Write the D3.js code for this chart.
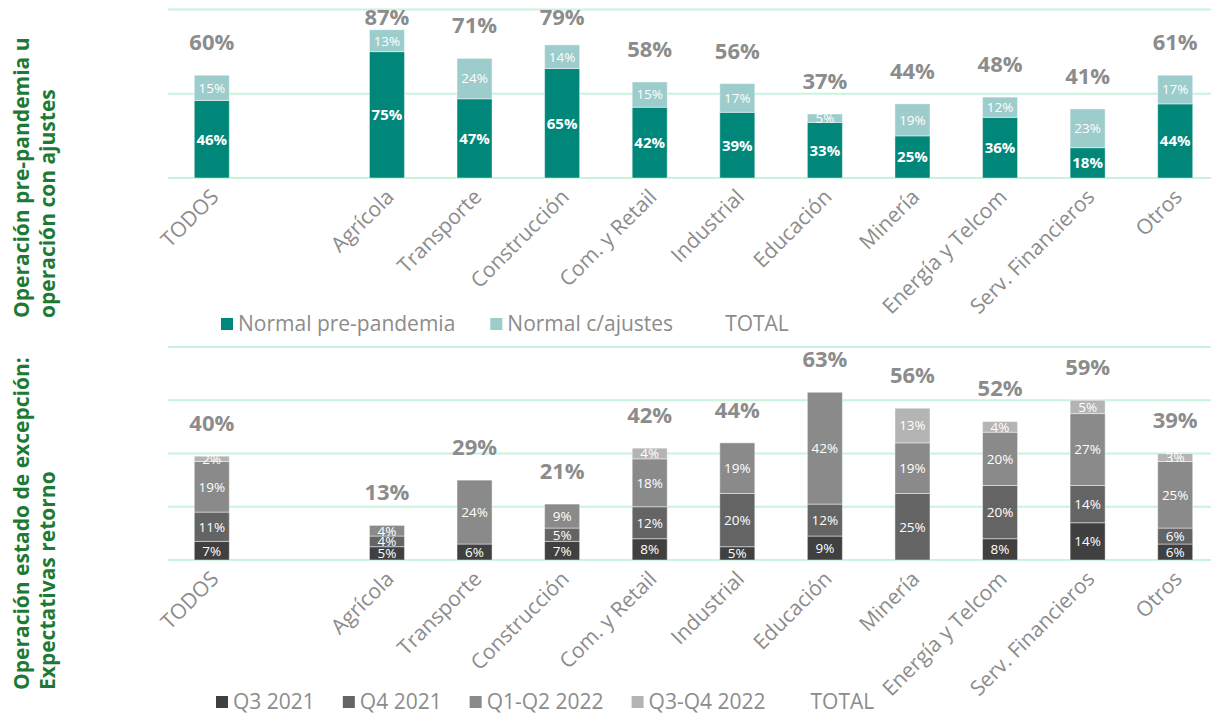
<!DOCTYPE html>
<html>
<head>
<meta charset="utf-8">
<script src="https://cdn.jsdelivr.net/npm/d3@7"></script>
<style>
  html, body { margin: 0; padding: 0; background: #ffffff; }
  svg { display: block; font-family: "Open Sans", Lato, sans-serif; }
</style>
</head>
<body>
<svg id="chart" width="1211" height="717"></svg>
<script>
// categories (a blank slot sits between TODOS and Agrícola)
var categories = ["TODOS", "Agrícola", "Transporte", "Construcción", "Com. y Retail", "Industrial", "Educación", "Minería", "Energía y Telcom", "Serv. Financieros", "Otros"];

// top panel: Operación pre-pandemia u operación con ajustes
var topSeries = ["Normal pre-pandemia", "Normal c/ajustes"];
var prePandemia = [46, 75, 47, 65, 42, 39, 33, 25, 36, 18, 44];
var conAjustes  = [15, 13, 24, 14, 15, 17, 5, 19, 12, 23, 17];
var topTotal    = [60, 87, 71, 79, 58, 56, 37, 44, 48, 41, 61];
var topTicks    = [0, 50, 100];

// bottom panel: Operación estado de excepción
var botSeries = ["Q3 2021", "Q4 2021", "Q1-Q2 2022", "Q3-Q4 2022"];
var q3_2021   = [7, 5, 6, 7, 8, 5, 9, 0, 8, 14, 6];
var q4_2021   = [11, 4, 0, 5, 12, 20, 12, 25, 20, 14, 6];
var q1q2_2022 = [19, 4, 24, 9, 18, 19, 42, 19, 20, 27, 25];
var q3q4_2022 = [2, 0, 0, 0, 4, 0, 0, 13, 4, 5, 3];
var botTotal  = [40, 13, 29, 21, 42, 44, 63, 56, 52, 59, 39];
var botTicks  = [0, 20, 40, 60, 80];

var COL = {
	grid: "#c9f3dc",
	text: "#8c8c8c",
	title: "#1d7a34",
	top: ["#00877a", "#9ccccb"],
	bot: ["#404040", "#646464", "#8a8a8a", "#b4b4b4"]
};

var svg = d3.select("#chart");

var slots = [categories[0], "_gap"].concat(categories.slice(1));
var x = d3.scaleBand().domain(slots).range([168, 1219]).paddingInner(0.6).paddingOuter(0.3);

var yTop = d3.scaleLinear().domain([0, 100]).range([178, 9.5]);
var yBot = d3.scaleLinear().domain([0, 80]).range([560, 347]);

function stackRows(seriesArrays){
	return categories.map(function(c, i){
		var row = {cat: c};
		seriesArrays.forEach(function(a, k){ row["s" + k] = a[i]; });
		return row;
	});
}

function drawPanel(opts){
	var g = svg.append("g");
	var y = opts.y;

	// gridlines
	g.selectAll("line.grid").data(opts.ticks).enter().append("line")
		.attr("class", "grid")
		.attr("x1", 168).attr("x2", 1211)
		.attr("y1", function(d){ return y(d); }).attr("y2", function(d){ return y(d); })
		.attr("stroke", COL.grid).attr("stroke-width", 2);

	var keys = opts.series.map(function(d, k){ return "s" + k; });
	var rows = stackRows(opts.values);
	var stacked = d3.stack().keys(keys)(rows);

	var layers = g.selectAll("g.layer").data(stacked).enter().append("g")
		.attr("class", "layer")
		.attr("fill", function(d, k){ return opts.colors[k]; });

	layers.selectAll("rect").data(function(d){ return d.filter(function(p){ return p[1] - p[0] > 0; }); })
		.enter().append("rect")
		.attr("x", function(p){ return x(p.data.cat); })
		.attr("width", x.bandwidth())
		.attr("y", function(p){ return y(p[1]); })
		.attr("height", function(p){ return y(p[0]) - y(p[1]); })
		.attr("stroke", "rgba(255,255,255,0.45)").attr("stroke-width", 1);

	// segment labels
	layers.each(function(layer, k){
		var bold = opts.boldFirst && k === 0;
		d3.select(this).selectAll("text").data(layer.filter(function(p){ return p[1] - p[0] > 0; }))
			.enter().append("text")
			.attr("x", function(p){ return x(p.data.cat) + x.bandwidth() / 2; })
			.attr("y", function(p){ return (y(p[0]) + y(p[1])) / 2; })
			.attr("dy", "0.36em")
			.attr("text-anchor", "middle")
			.attr("fill", "#ffffff")
			.style("font-size", bold ? "15px" : "13.5px")
			.style("font-weight", bold ? "bold" : "normal")
			.text(function(p){ return (p[1] - p[0]) + "%"; });
	});

	// totals
	var tops = rows.map(function(r){
		return keys.reduce(function(s, key){ return s + r[key]; }, 0);
	});
	g.selectAll("text.total").data(opts.totals).enter().append("text")
		.attr("class", "total")
		.attr("x", function(d, i){ return x(categories[i]) + x.bandwidth() / 2; })
		.attr("y", function(d, i){ return Math.max(y(tops[i]) - 33, y.range()[1] + 8); })
		.attr("dy", "0.36em")
		.attr("text-anchor", "middle")
		.attr("fill", COL.text)
		.style("font-size", "22px").style("font-weight", "bold")
		.text(function(d){ return d + "%"; });

	// category labels
	g.selectAll("text.cat").data(categories).enter().append("text")
		.attr("class", "cat")
		.attr("transform", function(d){
			return "translate(" + (x(d) + x.bandwidth() / 2 + 3) + "," + (y(0) + 15) + ") rotate(-45)";
		})
		.attr("text-anchor", "end")
		.attr("dy", "0.35em")
		.attr("fill", COL.text)
		.style("font-size", "21px")
		.text(function(d){ return d; });

	// legend
	var lg = g.append("g").attr("transform", "translate(" + opts.legendX + "," + opts.legendY + ")");
	var items = opts.series.concat(["TOTAL"]);
	var cx = 0;
	items.forEach(function(name, k){
		if(k < opts.series.length){
			lg.append("rect").attr("x", cx).attr("y", -6).attr("width", 12).attr("height", 12)
				.attr("fill", opts.colors[k]);
		}
		var t = lg.append("text").attr("x", cx + 17).attr("y", 0).attr("dy", "0.35em")
			.attr("fill", COL.text).style("font-size", "21px").text(name);
		cx += 17 + t.node().getComputedTextLength() + opts.legendGap;
	});
}

drawPanel({
	y: yTop, ticks: topTicks, series: topSeries, values: [prePandemia, conAjustes],
	colors: COL.top, totals: topTotal, boldFirst: true,
	legendX: 221, legendY: 324, legendGap: 35
});

drawPanel({
	y: yBot, ticks: botTicks, series: botSeries, values: [q3_2021, q4_2021, q1q2_2022, q3q4_2022],
	colors: COL.bot, totals: botTotal, boldFirst: false,
	legendX: 216, legendY: 702, legendGap: 28
});

// panel titles
function vTitle(lines, bottomY){
	lines.forEach(function(l, i){
		svg.append("text")
			.attr("transform", "translate(" + (22 + i * 26) + "," + bottomY + ") rotate(-90)")
			.attr("dy", "0.35em")
			.attr("fill", COL.title)
			.style("font-size", "21px").style("font-weight", "bold")
			.text(l);
	});
}
vTitle(["Operación pre-pandemia u", "operación con ajustes"], 318);
vTitle(["Operación estado de excepción:", "Expectativas retorno"], 690);
</script>
</body>
</html>
